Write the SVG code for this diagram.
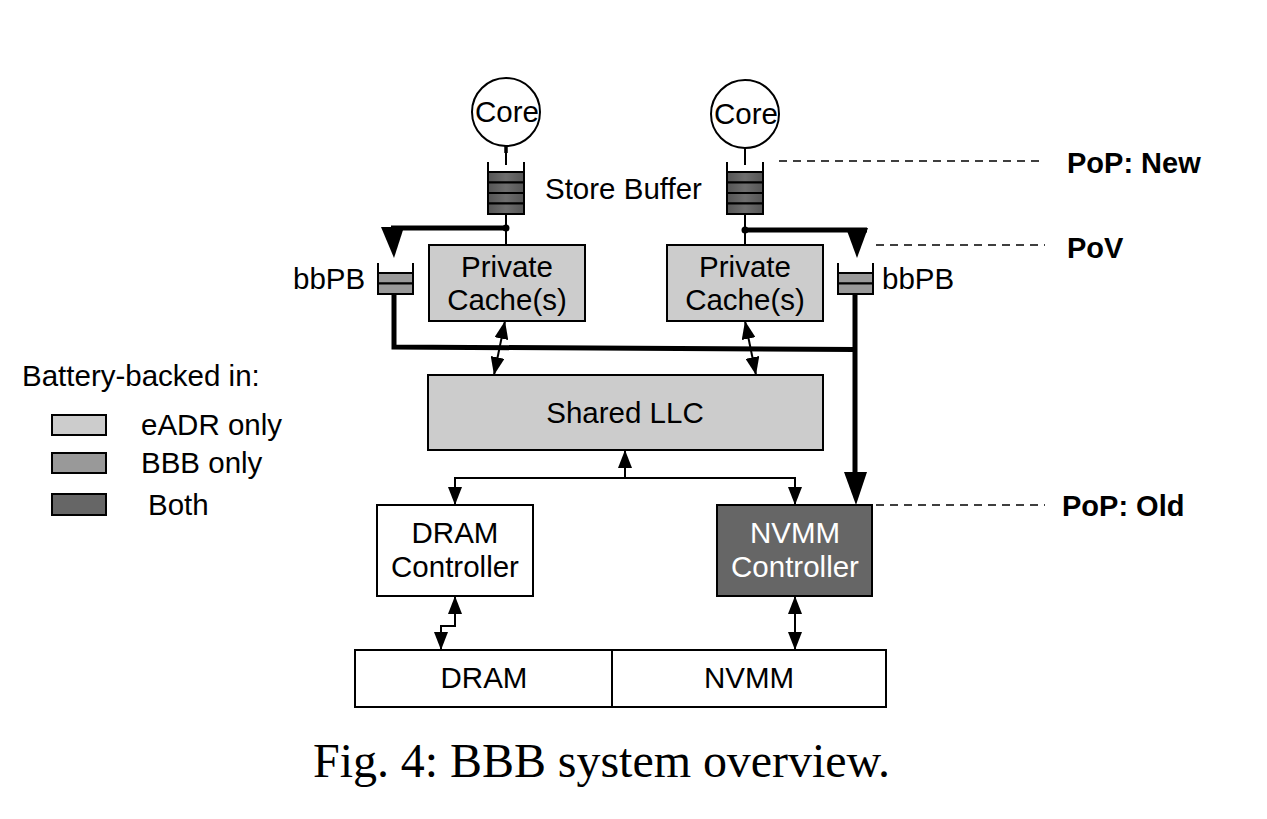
<svg xmlns="http://www.w3.org/2000/svg" width="1267" height="819" viewBox="0 0 1267 819">
<defs>
<style>
.t{font-family:"Liberation Sans",Arial,sans-serif;font-size:29.5px;fill:#000;text-anchor:middle}
.tl{font-family:"Liberation Sans",Arial,sans-serif;font-size:29.5px;fill:#000}
.b{font-family:"Liberation Sans",Arial,sans-serif;font-size:29px;font-weight:bold;fill:#000}
.box{stroke:#000;stroke-width:2}
.thin{stroke:#000;stroke-width:2;fill:none}
.thick{stroke:#000;stroke-width:5;fill:none;stroke-linejoin:miter}
.dash{stroke:#000;stroke-width:1.5;stroke-dasharray:8 6;fill:none}
.sb{fill:url(#sbg);stroke:#000;stroke-width:2}
.pb{fill:#999;stroke:#000;stroke-width:2}
</style>
<linearGradient id="sbg" x1="0" y1="0" x2="1" y2="0">
<stop offset="0" stop-color="#555"/>
<stop offset="0.5" stop-color="#6e6e6e"/>
<stop offset="1" stop-color="#555"/>
</linearGradient>
<marker id="a" markerUnits="userSpaceOnUse" markerWidth="18" markerHeight="14" viewBox="0 0 18 14" refX="18" refY="7" orient="auto-start-reverse">
<path d="M0,0 L18,7 L0,14 Z" fill="#000"/>
</marker>
</defs>
<rect width="1267" height="819" fill="#fff"/>

<g id="connectors">
<line class="thin" x1="506" y1="146" x2="506" y2="165"/>
<line x1="506" y1="146" x2="506" y2="153" stroke="#000" stroke-width="3.5"/>
<line class="thin" x1="745" y1="148" x2="745" y2="165"/>
<line class="thin" x1="506" y1="214" x2="506" y2="245"/>
<line class="thin" x1="745" y1="214" x2="745" y2="245"/>
<polyline class="thick" points="507,228 391,228"/>
<circle cx="506" cy="228" r="3.5" fill="#000"/>
<polygon points="381,227 404,227 394,258" fill="#000"/>
<polyline class="thick" points="745,230 867,230"/>
<circle cx="745" cy="230" r="3.5" fill="#000"/>
<polygon points="846,228 868,228 857,258" fill="#000"/>
<polyline class="thick" points="394,294 394,347 855,349.5"/>
<polyline class="thick" points="855,294 855,474"/>
<polygon points="844,472 867,472 856,505" fill="#000"/>
<line class="thin" x1="505" y1="321" x2="494" y2="375" marker-start="url(#a)" marker-end="url(#a)"/>
<line class="thin" x1="745" y1="321" x2="756" y2="375" marker-start="url(#a)" marker-end="url(#a)"/>
<line class="thin" x1="625" y1="478" x2="625" y2="450" marker-end="url(#a)"/>
<polyline class="thin" points="455,505 455,478 795,478 795,505" marker-start="url(#a)" marker-end="url(#a)"/>
<polyline class="thin" points="455,596 455,626 441,626 441,650" marker-start="url(#a)" marker-end="url(#a)"/>
<line class="thin" x1="795" y1="596" x2="795" y2="650" marker-start="url(#a)" marker-end="url(#a)"/>
<line class="dash" x1="779" y1="161" x2="1045" y2="161"/>
<line class="dash" x1="876" y1="245" x2="1045" y2="245"/>
<line class="dash" x1="876" y1="505" x2="1045" y2="505"/>
</g>

<g id="core-left">
<circle cx="506" cy="112" r="34" fill="#fff" stroke="#000" stroke-width="2"/>
<text class="t" x="507" y="122">Core</text>
</g>
<g id="core-right">
<circle cx="745" cy="114" r="34" fill="#fff" stroke="#000" stroke-width="2"/>
<text class="t" x="746" y="124">Core</text>
</g>

<g id="storebuffer-left">
<rect class="sb" x="488" y="172" width="36" height="10.5"/>
<rect class="sb" x="488" y="182.5" width="36" height="10.5"/>
<rect class="sb" x="488" y="193" width="36" height="10.5"/>
<rect class="sb" x="488" y="203.5" width="36" height="10.5"/>
<line class="thin" x1="488" y1="162" x2="488" y2="172"/>
<line class="thin" x1="524" y1="162" x2="524" y2="172"/>
</g>
<g id="storebuffer-right">
<rect class="sb" x="727" y="172" width="36" height="10.5"/>
<rect class="sb" x="727" y="182.5" width="36" height="10.5"/>
<rect class="sb" x="727" y="193" width="36" height="10.5"/>
<rect class="sb" x="727" y="203.5" width="36" height="10.5"/>
<line class="thin" x1="727" y1="162" x2="727" y2="172"/>
<line class="thin" x1="763" y1="162" x2="763" y2="172"/>
</g>
<g id="storebuffer-label">
<text class="tl" x="545" y="199">Store Buffer</text>
</g>

<g id="bbpb-left">
<rect class="pb" x="378" y="273" width="35" height="10.5"/>
<rect class="pb" x="378" y="283.5" width="35" height="10.5"/>
<line class="thin" x1="378" y1="263" x2="378" y2="273"/>
<line class="thin" x1="413" y1="263" x2="413" y2="273"/>
<text class="tl" x="293" y="289">bbPB</text>
</g>
<g id="bbpb-right">
<rect class="pb" x="838" y="273" width="35" height="10.5"/>
<rect class="pb" x="838" y="283.5" width="35" height="10.5"/>
<line class="thin" x1="838" y1="263" x2="838" y2="273"/>
<line class="thin" x1="873" y1="263" x2="873" y2="273"/>
<text class="tl" x="882" y="289">bbPB</text>
</g>

<g id="private-cache-left">
<rect class="box" x="429" y="245" width="156" height="76" fill="#ccc"/>
<text class="t" x="507" y="277">Private</text>
<text class="t" x="507" y="310">Cache(s)</text>
</g>
<g id="private-cache-right">
<rect class="box" x="667" y="245" width="156" height="76" fill="#ccc"/>
<text class="t" x="745" y="277">Private</text>
<text class="t" x="745" y="310">Cache(s)</text>
</g>

<g id="shared-llc">
<rect class="box" x="428" y="375" width="395" height="75" fill="#ccc"/>
<text class="t" x="625" y="423">Shared LLC</text>
</g>

<g id="dram-controller">
<rect class="box" x="377" y="505" width="156" height="91" fill="#fff"/>
<text class="t" x="455" y="543">DRAM</text>
<text class="t" x="455" y="577">Controller</text>
</g>
<g id="nvmm-controller">
<rect class="box" x="717" y="505" width="155" height="91" fill="#666"/>
<text class="t" x="795" y="543" style="fill:#fff">NVMM</text>
<text class="t" x="795" y="577" style="fill:#fff">Controller</text>
</g>

<g id="dram">
<rect class="box" x="355" y="650" width="257" height="57" fill="#fff"/>
<text class="t" x="484" y="688">DRAM</text>
</g>
<g id="nvmm">
<rect class="box" x="612" y="650" width="274" height="57" fill="#fff"/>
<text class="t" x="749" y="688">NVMM</text>
</g>

<g id="labels">
<text class="b" x="1067" y="173">PoP: New</text>
<text class="b" x="1067" y="258">PoV</text>
<text class="b" x="1062" y="516">PoP: Old</text>
</g>

<g id="legend">
<text class="tl" x="22" y="386">Battery-backed in:</text>
<rect class="box" x="52" y="415" width="54" height="20" fill="#ccc"/>
<text class="tl" x="141" y="435">eADR only</text>
<rect class="box" x="52" y="453" width="54" height="20" fill="#999"/>
<text class="tl" x="141" y="473">BBB only</text>
<rect class="box" x="52" y="494" width="54" height="21" fill="#666"/>
<text class="tl" x="148" y="515">Both</text>
</g>

<g id="caption">
<text x="313" y="777" font-family="'Liberation Serif','Times New Roman',serif" font-size="48" textLength="577" lengthAdjust="spacing">Fig. 4: BBB system overview.</text>
</g>
</svg>
